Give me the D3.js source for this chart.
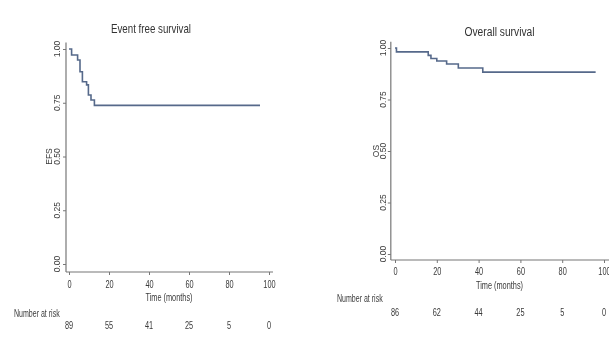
<!DOCTYPE html>
<html>
<head>
<meta charset="utf-8">
<script src="https://cdn.jsdelivr.net/npm/d3@7"></script>
<style>
  body { margin: 0; background: #fff; }
  #chart { position: relative; width: 609px; height: 339px; }
  #chart svg { position: absolute; left: 0; top: 0; }
  svg.base { filter: grayscale(1); }
  svg text { font-family: "Liberation Sans", Arial, sans-serif; fill: #3a3a3a; }
</style>
</head>
<body>
<div id="chart"></div>
<script>
"use strict";

// Kaplan-Meier step values
const efsTime = [0, 1.3, 4.3, 5.5, 6.7, 8.8, 9.7, 11, 12.7, 95.5];
const efsSurv = [1, 0.972, 0.949, 0.894, 0.848, 0.833, 0.786, 0.763, 0.738, 0.738];

const osTime = [0, 0.7, 15.9, 17.2, 20, 24.7, 30.3, 42, 96];
const osSurv = [1, 0.981, 0.964, 0.949, 0.937, 0.922, 0.903, 0.883, 0.883];

const xTicks = [0, 20, 40, 60, 80, 100];
const yTicks = [0, 0.25, 0.5, 0.75, 1];
const efsAtRisk = [89, 55, 41, 25, 5, 0];
const osAtRisk = [86, 62, 44, 25, 5, 0];

const width = 609,
    height = 339;

// the picture's text is squeezed sideways, like a narrow font
const narrow = 0.64;

// text and axes go in a grey layer, the curves on top of it
const svg = d3.select("#chart")
    .append("svg")
    .attr("class", "base")
    .attr("width", width)
    .attr("height", height);

const curveLayer = d3.select("#chart")
    .append("svg")
    .attr("width", width)
    .attr("height", height);

const addText = (g, x, y, str, size, sx) => g.append("text")
    .attr("transform", `translate(${x},${y}) scale(${sx},1)`)
    .attr("text-anchor", "middle")
    .attr("font-size", size)
    .text(str);

const drawPanel = (cfg) => {
    const x = d3.scaleLinear().domain([0, 100]).range(cfg.xRange);
    const y = d3.scaleLinear().domain([0, 1]).range(cfg.yRange);
    const g = svg.append("g");

    // axis lines
    g.append("line")
        .attr("x1", x(cfg.xStart)).attr("x2", x(cfg.xStart))
        .attr("y1", y(1.03)).attr("y2", cfg.axisY)
        .attr("stroke", "#777").attr("stroke-width", 1.2);
    g.append("line")
        .attr("x1", x(cfg.xStart)).attr("x2", x(cfg.xEnd))
        .attr("y1", cfg.axisY).attr("y2", cfg.axisY)
        .attr("stroke", "#777").attr("stroke-width", 1.2);

    // x axis
    const xAxis = g.append("g")
        .attr("transform", `translate(0,${cfg.axisY})`)
        .call(d3.axisBottom(x).tickValues(xTicks).tickSize(3).tickPadding(cfg.tickPad));
    xAxis.select(".domain").remove();
    xAxis.selectAll("line").attr("stroke", "#777");
    xAxis.selectAll("text")
        .attr("font-size", 11.5)
        .attr("fill", "#3a3a3a")
        .attr("transform", `scale(${narrow},1)`)
        .style("font-family", "Liberation Sans, Arial, sans-serif");

    // y axis
    const yAxis = g.append("g")
        .attr("transform", `translate(${x(cfg.xStart)},0)`)
        .call(d3.axisLeft(y).tickValues(yTicks).tickSize(3));
    yAxis.select(".domain").remove();
    yAxis.selectAll("line").attr("stroke", "#777");
    yAxis.selectAll("text").remove();
    g.selectAll(".ylab")
        .data(yTicks)
        .enter()
        .append("text")
        .attr("transform", d => `translate(${cfg.yLabX},${y(d)}) rotate(-90)`)
        .attr("text-anchor", "middle")
        .attr("dy", "0.35em")
        .attr("font-size", 8.5)
        .text(d3.format(".2f"));

    // y title
    g.append("text")
        .attr("transform", `translate(${cfg.yTitleX},${y(0.5)}) rotate(-90)`)
        .attr("text-anchor", "middle")
        .attr("dy", "0.35em")
        .attr("font-size", 8.5)
        .text(cfg.yTitle);

    // title
    addText(g, x(cfg.titleAt), cfg.titleY, cfg.title, 12.5, cfg.titleScale)
        .style("fill", "#333");

    // x title
    addText(g, x(50), cfg.axisY + cfg.xTitleDy, "Time (months)", 11.5, narrow);

    // number at risk
    addText(g, cfg.riskLabelX, cfg.axisY + cfg.riskLabelDy, "Number at risk", 11, narrow)
        .attr("text-anchor", "start");
    g.selectAll(".risk")
        .data(cfg.atRisk)
        .enter()
        .append("text")
        .attr("transform", (d, i) => `translate(${x(xTicks[i])},${cfg.axisY + cfg.riskDy}) scale(${narrow},1)`)
        .attr("text-anchor", "middle")
        .attr("font-size", 11.5)
        .text(d => d);

    // survival curve
    const line = d3.line()
        .x(d => x(d[0]))
        .y(d => y(d[1]))
        .curve(d3.curveStepAfter);
    curveLayer.append("path")
        .datum(d3.zip(cfg.times, cfg.surv))
        .attr("fill", "none")
        .attr("stroke", "#56698a")
        .attr("stroke-width", 1.6)
        .attr("d", line);
};

drawPanel({
    xRange: [69, 269], yRange: [264, 49], axisY: 272, tickPad: 5,
    xStart: -1.5, xEnd: 102, yLabX: 57, yTitleX: 49.5,
    title: "Event free survival", titleAt: 41, titleY: 33, titleScale: 0.78,
    yTitle: "EFS", riskLabelX: 14, xTitleDy: 29, riskLabelDy: 45, riskDy: 57,
    atRisk: efsAtRisk, times: efsTime, surv: efsSurv
});

drawPanel({
    xRange: [395, 604], yRange: [254, 48], axisY: 260, tickPad: 4,
    xStart: -2, xEnd: 110, yLabX: 383, yTitleX: 376,
    title: "Overall survival", titleAt: 50, titleY: 36, titleScale: 0.82,
    yTitle: "OS", riskLabelX: 337, xTitleDy: 29, riskLabelDy: 42, riskDy: 56,
    atRisk: osAtRisk, times: osTime, surv: osSurv
});
</script>
</body>
</html>
